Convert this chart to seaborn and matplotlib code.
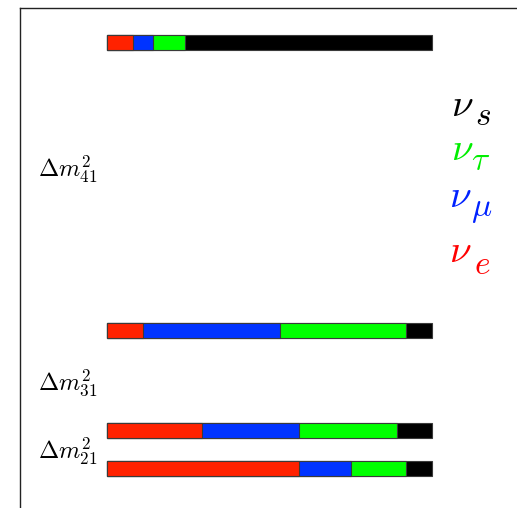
import matplotlib
matplotlib.use("Agg")
import matplotlib.pyplot as plt
import numpy as np
import pandas as pd
import seaborn as sns

# Flavour content |U_{alpha i}|^2 of the four mass eigenstates (3+1 scheme)
mass_states = ["m1", "m2", "m3", "m4"]
mass_levels = [0.0, 1.0, 3.63, 11.2]
frac_e = [0.59, 0.29, 0.11, 0.08]
frac_mu = [0.16, 0.30, 0.42, 0.06]
frac_tau = [0.17, 0.30, 0.39, 0.10]
frac_s = [0.08, 0.11, 0.08, 0.76]

flavour_subs = ["e", r"\mu", r"\tau", "s"]
flavour_colors = ["#ff2200", "#0033ff", "#00ff00", "#000000"]
label_colors = ["#ff0000", "#0022ff", "#00ee00", "#000000"]
splitting_labels = [r"$\Delta m^2_{41}$", r"$\Delta m^2_{31}$", r"$\Delta m^2_{21}$"]

plt.rcParams["mathtext.fontset"] = "cm"

W, H = 517, 508
fracs = np.array([frac_e, frac_mu, frac_tau, frac_s])
cum = np.cumsum(fracs, axis=0)

fig = plt.figure(figsize=(W / 100, H / 100), dpi=100)
ax = fig.add_axes([20 / W, -22 / H, 520 / W, 522 / H])

# stacked bars: draw cumulative totals from the outermost flavour inwards
for k in range(3, -1, -1):
    df = pd.DataFrame({"level": mass_levels, "total": cum[k], "state": mass_states})
    sns.barplot(data=df, x="total", y="level", orient="h", native_scale=True,
                color=flavour_colors[k], saturation=1, width=0.4,
                edgecolor="#3a3a3a", linewidth=0.8, errorbar=None, ax=ax)

ax.set_xlim(-0.2692, 1.3308)
ax.set_ylim(-1.618, 12.118)
ax.set_xticks([])
ax.set_yticks([])
ax.set_xlabel("")
ax.set_ylabel("")
for sp in ax.spines.values():
    sp.set_linewidth(1.0)
    sp.set_color("#222222")


def put(s, px, py, size, color="black"):
    """Place math text with its left/baseline at a pixel position (origin top-left)."""
    fig.text(px / W, 1 - py / H, s, fontsize=size, color=color,
             ha="left", va="baseline")


# mass-splitting annotations
for lab, base in zip(splitting_labels, [176.5, 390.0, 459.0]):
    put(lab, 38, base, 17.5)

# flavour key: nu_alpha, coloured by flavour
key_layout = {  # nu-left, nu-baseline, subscript dx, subscript drop (pixels)
    "s": (451, 116.5, 24, 8.5),
    r"\tau": (451, 159.5, 20, 10.5),
    r"\mu": (449, 207.0, 22, 9.0),
    "e": (449, 262.5, 25, 12.0),
}
for sub, col in zip(flavour_subs, label_colors):
    x0, y0, dx, dy = key_layout[sub]
    put(r"$\nu$", x0, y0, 28, col)
    put(r"$%s$" % sub, x0 + dx, y0 + dy, 24, col)

fig.savefig("out.png", dpi=100)
